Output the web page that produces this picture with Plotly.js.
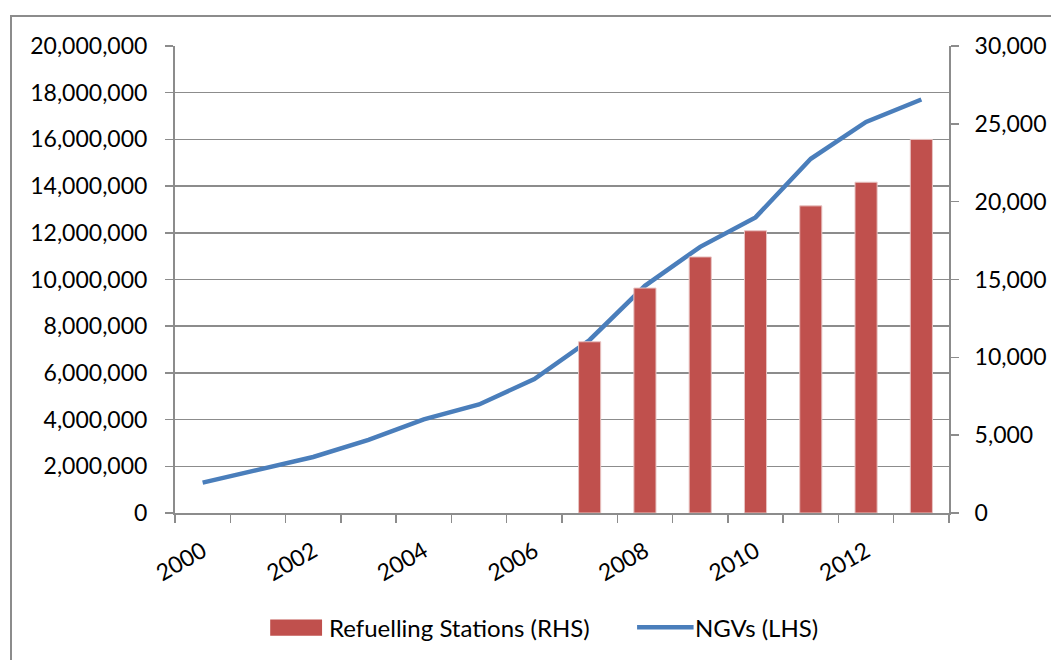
<!DOCTYPE html>
<html>
<head>
<meta charset="utf-8">
<script src="https://cdn.plot.ly/plotly-3.0.1.min.js"></script>
<style>
  html, body { margin: 0; padding: 0; background: #fff; }
  #wrap { position: relative; width: 1051px; height: 660px; overflow: hidden; }
  #frame { position: absolute; left: 10px; top: 15px; width: 1100px; height: 700px;
           border-left: 2px solid #8c8c8c; border-top: 2px solid #8c8c8c; pointer-events: none; }
  #chart { position: absolute; left: 0; top: 0; width: 1051px; height: 660px; }
</style>
</head>
<body>
<div id="wrap">
  <div id="chart"></div>
  <div id="frame"></div>
</div>
<script>
const years = [2000, 2001, 2002, 2003, 2004, 2005, 2006, 2007, 2008, 2009, 2010, 2011, 2012, 2013];
const ngvs = [1300000, 1840000, 2400000, 3130000, 4010000, 4650000, 5740000, 7410000, 9730000, 11400000, 12660000, 15170000, 16750000, 17710000];
const stationYears = [2007, 2008, 2009, 2010, 2011, 2012, 2013];
const stations = [11000, 14450, 16450, 18130, 19730, 21250, 24000];
const xTickVals = [2000, 2002, 2004, 2006, 2008, 2010, 2012];
const xTickText = ['2000', '2002', '2004', '2006', '2008', '2010', '2012'];
const barName = 'Refuelling Stations (RHS)';
const lineName = 'NGVs (LHS)';

const gridCol = '#8c8c8c';
const font = 'Lato, "Open Sans", sans-serif';
const tickSize = 23;

const traces = [
  {
    type: 'bar', x: stationYears, y: stations, yaxis: 'y2', name: barName,
    marker: { color: '#C0504D', line: { color: '#e8c4c3', width: 1 } },
    width: 0.4, hoverinfo: 'x+y'
  },
  {
    type: 'scatter', mode: 'lines', x: years, y: ngvs, name: lineName,
    line: { color: '#4A7EBB', width: 4.5 }
  }
];

const layout = {
  width: 1051, height: 660,
  margin: { l: 175, r: 102, t: 46, b: 147 },
  paper_bgcolor: '#fff', plot_bgcolor: '#fff',
  showlegend: false,
  font: { family: font, size: tickSize, color: '#000' },
  xaxis: {
    range: [1999.5, 2013.5],
    tickvals: xTickVals, ticktext: xTickText,
    tickangle: -30, ticks: '', showgrid: false, zeroline: false,
    showline: true, linecolor: gridCol, linewidth: 2,
    ticklabelstandoff: 14,
    tickfont: { family: font, size: tickSize },
    minor: { tick0: 1999.5, dtick: 1, ticks: 'outside', ticklen: 8, tickcolor: gridCol, tickwidth: 1.5, showgrid: false }
  },
  yaxis: {
    range: [0, 20000000], dtick: 2000000, tickformat: ',d',
    showgrid: true, gridcolor: gridCol, gridwidth: 1.5,
    zeroline: false, showline: true, linecolor: gridCol, linewidth: 2,
    ticks: 'outside', ticklen: 8, tickcolor: gridCol, tickwidth: 1.5,
    ticklabelstandoff: 13,
    tickfont: { family: font, size: tickSize }
  },
  yaxis2: {
    overlaying: 'y', side: 'right', range: [0, 30000], dtick: 5000, tickformat: ',d',
    showgrid: false, zeroline: false, showline: true, linecolor: gridCol, linewidth: 2,
    ticks: 'outside', ticklen: 8, tickcolor: gridCol, tickwidth: 1.5,
    ticklabelstandoff: 11,
    tickfont: { family: font, size: tickSize }
  },
  shapes: [
    { type: 'rect', xref: 'paper', yref: 'paper', x0: 0.123, x1: 0.190, y0: -0.228, y1: -0.263,
      fillcolor: '#C0504D', line: { width: 0 } },
    { type: 'line', xref: 'paper', yref: 'paper', x0: 0.597, x1: 0.670, y0: -0.2445, y1: -0.2445,
      line: { color: '#4A7EBB', width: 4.5 } }
  ],
  annotations: [
    { xref: 'paper', yref: 'paper', x: 0.196, y: -0.2445, xanchor: 'left', yanchor: 'middle',
      text: barName, showarrow: false, font: { family: font, size: 24 } },
    { xref: 'paper', yref: 'paper', x: 0.669, y: -0.2445, xanchor: 'left', yanchor: 'middle',
      text: lineName, showarrow: false, font: { family: font, size: 24 } }
  ]
};

Plotly.newPlot('chart', traces, layout, { displayModeBar: false, staticPlot: true });
</script>
</body>
</html>
